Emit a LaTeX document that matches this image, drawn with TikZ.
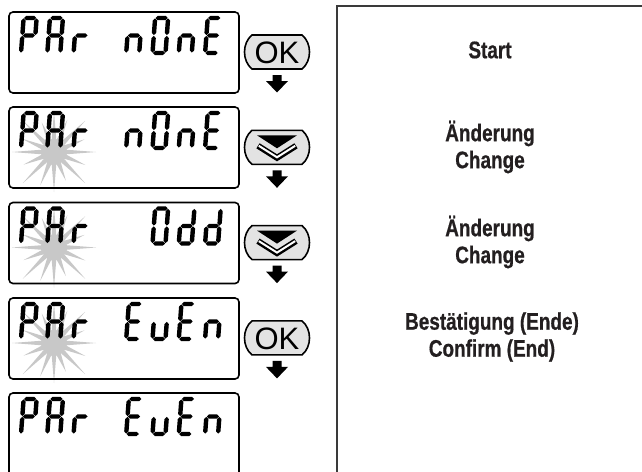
\documentclass[tikz,border=0pt]{standalone}
\usepackage{fontspec}
\setmainfont{Liberation Sans}
\newfontfamily\lblfont{Liberation Sans}[FakeStretch=0.79,FakeBold=0.6]
\definecolor{txtcol}{HTML}{231F20}
\definecolor{starcol}{HTML}{C8C8C8}
\definecolor{btncol}{HTML}{E3E3E3}
\definecolor{panelcol}{HTML}{3A3A3A}
% segments in local coordinates: y grows downward, baseline centre at 0, top centre at -35
\newcommand\lcdh[1]{\fill[segcol] (0.4,#1) -- (2.6,#1-2.2) -- (10.4,#1-2.2) -- (12.6,#1) -- (10.4,#1+2.2) -- (2.6,#1+2.2) -- cycle;}
\newcommand\lcdv[3]{\fill[segcol] (#1,#2-0.4) -- (#1+2.2,#2-2.6) -- (#1+2.2,#3+2.6) -- (#1,#3+0.4) -- (#1-2.2,#3+2.6) -- (#1-2.2,#2-2.6) -- cycle;}
\newcommand\lcdsega{\lcdh{-35}}
\newcommand\lcdsegd{\lcdh{0}}
\newcommand\lcdsegg{\lcdh{-17.5}}
\newcommand\lcdsegb{\lcdv{13}{-17.5}{-35}}
\newcommand\lcdsegc{\lcdv{13}{0}{-17.5}}
\newcommand\lcdsege{\lcdv{0}{0}{-17.5}}
\newcommand\lcdsegf{\lcdv{0}{-17.5}{-35}}
% #1 cell index, #2 box top, #3 segments
\newcommand\lcdch[3]{%
  \begin{scope}[shift={(21+26.3*#1,#2+41)},xslant=0.075]
    \foreach \s in {#3}{\csname lcdseg\s\endcsname}
  \end{scope}}
\newcommand\parword[1]{\lcdch{0}{#1}{a,b,f,g,e}\lcdch{1}{#1}{a,b,c,e,f,g}\lcdch{2}{#1}{e,g}}
\newcommand\lcdbox[1]{\draw[lcdframe] (9,#1) rectangle (239,#1+81);}
\newcommand\lcdstar[1]{%
  \begin{scope}[shift={(54,#1+45)}]
    \fill[starcol] (0:42) \foreach \a/\R in {22.5/34,45/44,67.5/31,90/40,112.5/36,135/44,157.5/33,180/42,202.5/35,225/44,247.5/32,270/41,292.5/35,315/44,337.5/33} { -- (\a-11.25:12) -- (\a:\R) } -- (348.75:12) -- cycle;
  \end{scope}}
\newcommand\btnshape[1]{\filldraw[btn] (252,#1) -- (302,#1) .. controls (312,#1+8) and (312,#1+26) .. (302,#1+34) -- (252,#1+34) .. controls (242,#1+26) and (242,#1+8) .. (252,#1) -- cycle;}
\newcommand\blockarrow[1]{\fill[black] (272.5,#1) -- (281.5,#1) -- (281.5,#1+6) -- (288,#1+6) -- (277,#1+17.5) -- (266,#1+6) -- (272.5,#1+6) -- cycle;}
\newcommand\chevron[1]{%
  \fill[black] (257,#1+5) -- (297,#1+5) -- (277,#1+18) -- cycle;
  \draw[black,line width=6pt,miter limit=10] (258,#1+15.5) -- (277,#1+27.5) -- (296,#1+15.5);
  \draw[white,line width=2pt,miter limit=10] (258.8,#1+15.5) -- (277,#1+27) -- (295.2,#1+15.5);}
\begin{document}
\begin{tikzpicture}[x=1pt,y=-1pt,
  segcol/.style={fill=black},
  lcdframe/.style={draw=black,line width=1.6pt,rounded corners=4pt},
  btn/.style={draw=black,fill=btncol,line width=1.6pt},
  lbl/.style={font=\lblfont\bfseries\fontsize{24}{27}\selectfont,text=txtcol,align=center,inner sep=0pt},
  oktext/.style={font=\fontsize{31}{31}\selectfont,text=black,inner sep=0pt}]
\useasboundingbox (0,0) rectangle (642,471);
\fill[white] (0,0) rectangle (642,471);
% stars
\lcdstar{107}
\lcdstar{202.5}
\lcdstar{298}
% LCD boxes
\lcdbox{12}
\lcdbox{107}
\lcdbox{202.5}
\lcdbox{298}
\draw[lcdframe] (9,475) -- (9,393) -- (239,393) -- (239,475);
% Row 1: PAr nOnE
\parword{12}
\lcdch{4}{12}{c,e,g}\lcdch{5}{12}{a,b,c,d,e,f}\lcdch{6}{12}{c,e,g}\lcdch{7}{12}{a,d,e,f,g}
% Row 2: PAr nOnE
\parword{107}
\lcdch{4}{107}{c,e,g}\lcdch{5}{107}{a,b,c,d,e,f}\lcdch{6}{107}{c,e,g}\lcdch{7}{107}{a,d,e,f,g}
% Row 3: PAr Odd
\parword{202.5}
\lcdch{5}{202.5}{a,b,c,d,e,f}\lcdch{6}{202.5}{b,c,d,e,g}\lcdch{7}{202.5}{b,c,d,e,g}
% Row 4: PAr EuEn
\parword{298}
\lcdch{4}{298}{a,d,e,f,g}\lcdch{5}{298}{c,d,e}\lcdch{6}{298}{a,d,e,f,g}\lcdch{7}{298}{c,e,g}
% Row 5: PAr EuEn
\parword{393}
\lcdch{4}{393}{a,d,e,f,g}\lcdch{5}{393}{c,d,e}\lcdch{6}{393}{a,d,e,f,g}\lcdch{7}{393}{c,e,g}
% Buttons
\btnshape{35}
\node[oktext] (ok1) at (277,52.5) {OK};
\btnshape{130.3}
\chevron{130.3}
\btnshape{225.6}
\chevron{225.6}
\btnshape{320.9}
\node[oktext] (ok2) at (277,338.4) {OK};
% arrows
\blockarrow{75}
\blockarrow{170.3}
\blockarrow{265.6}
\blockarrow{360.9}
% right panel
\draw[panelcol,line width=2pt] (336.5,472) -- (336.5,5.5) -- (643,5.5);
\node[lbl] (start) at (490,50) {Start};
\node[lbl] (chg1) at (490,147) {Änderung\\Change};
\node[lbl] (chg2) at (490,242) {Änderung\\Change};
\node[lbl] (conf) at (492,337) {Bestätigung (Ende)\\Confirm (End)};
\end{tikzpicture}
\end{document}
